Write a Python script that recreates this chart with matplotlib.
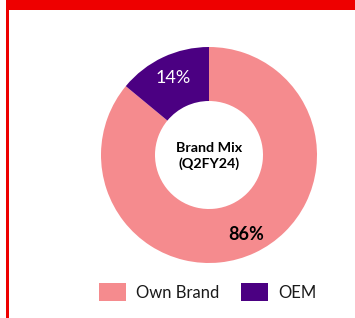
import matplotlib.pyplot as plt
from matplotlib.patches import Rectangle, Patch

# data
labels = ["Own Brand", "OEM"]
shares = [86, 14]
colors = ["#F58B8E", "#4B0082"]
center_title = "Brand Mix\n(Q2FY24)"

plt.rcParams['font.family'] = ['Lato', 'DejaVu Sans']

W, H = 355, 318
fig = plt.figure(figsize=(W / 100, H / 100), dpi=100)
ax = fig.add_axes([0, 0, 1, 1])

# donut
wedges, _ = ax.pie(shares, colors=colors, startangle=90, counterclock=False,
                   center=(209, H - 155), radius=108,
                   wedgeprops=dict(width=54, edgecolor='none'))

# percentage labels
ax.text(173, H - 78, f"{shares[1]}%", color="white", fontsize=13,
        ha="center", va="center")
ax.text(246, H - 235, f"{shares[0]}%", color="black", fontsize=13,
        fontweight="bold", ha="center", va="center")
ax.text(209, H - 156, center_title, color="black", fontsize=10.3,
        fontweight="bold", ha="center", va="center", linespacing=1.3)

# red frame
ax.add_patch(Rectangle((6, H - 10), W - 6, 10, color="#EE0000", lw=0))
ax.add_patch(Rectangle((6, 0), 3, H, color="#EE0000", lw=0))

ax.set_xlim(0, W)
ax.set_ylim(0, H)
ax.set_aspect('auto')
ax.axis('off')

handles = [Patch(facecolor=c, edgecolor='none') for c in colors]
fig.legend(handles, labels, loc="center", bbox_to_anchor=(208 / W, 26 / H),
           ncol=2, frameon=False, fontsize=12, handlelength=1.6,
           handleheight=1.2, handletextpad=0.62, columnspacing=1.3,
           labelcolor="#1a1a1a")

fig.savefig("out.png", dpi=100)
